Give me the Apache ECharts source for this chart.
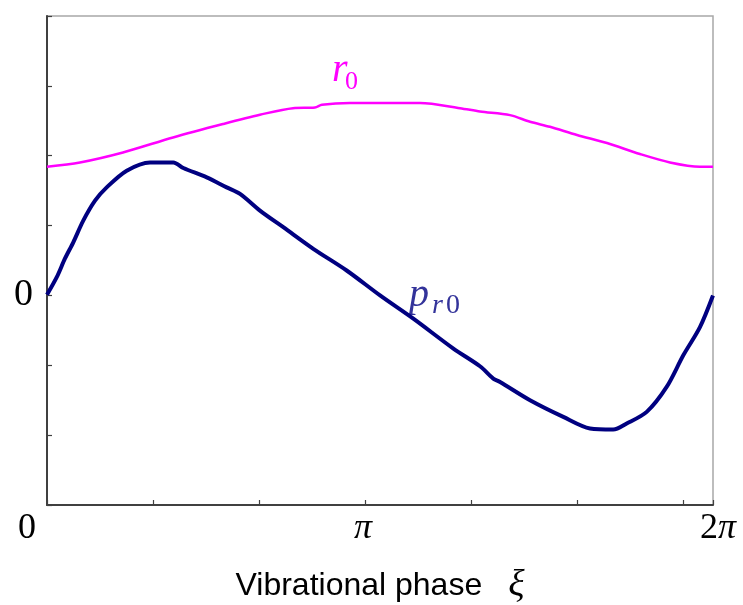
<!DOCTYPE html>
<html>
<head>
<meta charset="utf-8">
<script src="https://cdn.jsdelivr.net/npm/echarts@6/dist/echarts.min.js"></script>
<style>html,body{margin:0;padding:0;background:#fff;}#c{width:743px;height:605px;}</style>
</head>
<body>
<div id="c"></div>
<script>
// phase (radians) and values
const r0Phase = [0, 0.311, 0.717, 1.189, 1.660, 2.009, 2.321, 2.528, 2.594, 2.858, 3.519, 3.896, 4.085, 4.368, 4.557, 4.745, 5.000, 5.283, 5.594, 5.877, 6.160, 6.283];
const r0Value = [1.843, 1.904, 2.047, 2.261, 2.453, 2.586, 2.681, 2.690, 2.729, 2.753, 2.753, 2.681, 2.633, 2.581, 2.486, 2.414, 2.296, 2.181, 2.024, 1.904, 1.843, 1.843];

const pr0Phase = [0, 0.092, 0.170, 0.248, 0.342, 0.453, 0.563, 0.752, 0.972, 1.192, 1.286, 1.507, 1.695, 1.821, 2.009, 2.229, 2.512, 2.827, 3.142, 3.456, 3.834, 4.085, 4.210, 4.274, 4.557, 4.871, 5.123, 5.342, 5.469, 5.658, 5.846, 6.003, 6.160, 6.283];
const pr0Value = [0.01, 0.261, 0.529, 0.761, 1.071, 1.357, 1.547, 1.786, 1.904, 1.904, 1.824, 1.690, 1.547, 1.453, 1.214, 0.976, 0.667, 0.357, 0, -0.333, -0.761, -1.014, -1.190, -1.239, -1.5, -1.739, -1.904, -1.919, -1.833, -1.667, -1.310, -0.857, -0.453, 0];

const xTickLabels = {0: '0', 3: 'π', max: '2π'};
const yTickLabels = {0: '0'};
const xName = 'Vibrational phase';
const xNameSymbol = 'ξ';

const chart = echarts.init(document.getElementById('c'), null, {renderer: 'canvas'});
const serif = '"Liberation Serif", "DejaVu Serif", serif';
const sans = '"Liberation Sans", Arial, sans-serif';

function zip(a, b) { return a.map((v, i) => [v, b[i]]); }

chart.setOption({
  animation: false,
  backgroundColor: '#fff',
  grid: {left: 47, right: 30, top: 16, bottom: 100, containLabel: false, outerBoundsMode: 'none',
         show: true, borderColor: '#a8a8a8', borderWidth: 1.5},
  xAxis: {
    type: 'value', min: 0, max: 2 * Math.PI, interval: 1,
    axisLine: {show: true, onZero: false, lineStyle: {color: '#404040', width: 2}},
    axisTick: {show: true, inside: true, length: 5, lineStyle: {color: '#404040', width: 1.2}},
    splitLine: {show: false},
    axisLabel: {
      margin: 6, color: '#000', fontFamily: serif, fontSize: 36,
      showMaxLabel: true, showMinLabel: true,
      formatter: function (v) {
        if (v > 6.2) return '{m|2}{mi|π}';
        if (Math.abs(v) < 1e-9) return '{z|' + xTickLabels[0] + '}';
        if (Math.abs(v - 3) < 1e-9) return '{p|' + xTickLabels[3] + '}';
        return '';
      },
      rich: {
        z: {fontFamily: serif, fontSize: 36, color: '#000', padding: [0, 40, 0, 0]},
        p: {fontFamily: serif, fontSize: 36, fontStyle: 'italic', color: '#000', padding: [0, 4, 0, 0]},
        m: {fontFamily: serif, fontSize: 36, color: '#000', padding: [0, 0, 0, 10]},
        mi: {fontFamily: serif, fontSize: 36, fontStyle: 'italic', color: '#000'}
      }
    },
    name: xName + '{s|' + xNameSymbol + '}',
    nameLocation: 'middle', nameGap: 62,
    nameTextStyle: {
      fontFamily: sans, fontSize: 32, color: '#000',
      rich: {s: {fontFamily: serif, fontStyle: 'italic', fontSize: 38, color: '#000', padding: [0, 0, 0, 26]}}
    }
  },
  yAxis: {
    type: 'value', min: -3, max: 4, interval: 1,
    axisLine: {show: true, onZero: false, lineStyle: {color: '#404040', width: 2}},
    axisTick: {show: true, inside: true, length: 5, lineStyle: {color: '#404040', width: 1.2}},
    splitLine: {show: false},
    axisLabel: {
      margin: 14, color: '#000', fontFamily: serif, fontSize: 38,
      formatter: function (v) { return yTickLabels[v] !== undefined ? yTickLabels[v] : ''; }
    }
  },
  series: [
    {type: 'line', data: zip(r0Phase, r0Value), showSymbol: false, smooth: 0.3,
     lineStyle: {color: '#ff00ff', width: 2.5}, z: 3},
    {type: 'line', data: zip(pr0Phase, pr0Value), showSymbol: false, smooth: 0.3,
     lineStyle: {color: '#000080', width: 4}, z: 4}
  ],
  graphic: [
    {type: 'text', left: 332, top: 50, style: {text: 'r', font: 'italic 40px ' + serif, fill: '#ff00ff'}},
    {type: 'text', left: 345, top: 69, style: {text: '0', font: '26px ' + serif, fill: '#ff00ff'}},
    {type: 'text', left: 409, top: 275, style: {text: 'p', font: 'italic 40px ' + serif, fill: '#33339a'}},
    {type: 'text', left: 432, top: 292, style: {text: 'r', font: 'italic 28px ' + serif, fill: '#33339a'}},
    {type: 'text', left: 446, top: 292, style: {text: '0', font: '28px ' + serif, fill: '#33339a'}}
  ]
});
</script>
</body>
</html>
